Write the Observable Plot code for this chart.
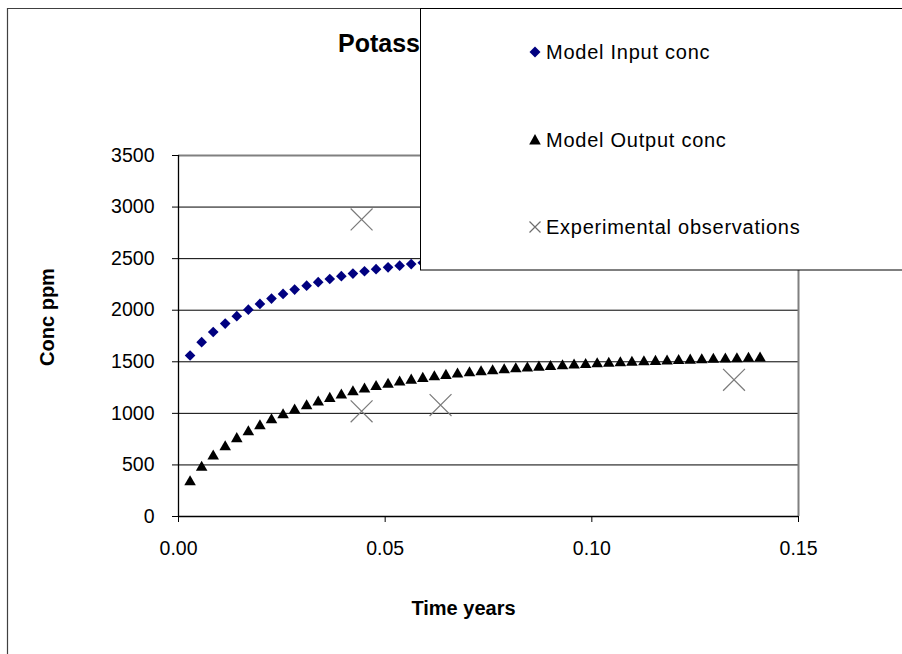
<!DOCTYPE html>
<html>
<head>
<meta charset="utf-8">
<script src="https://cdn.jsdelivr.net/npm/d3@7"></script>
<script src="https://cdn.jsdelivr.net/npm/@observablehq/plot@0.6"></script>
<style>
html, body { margin: 0; padding: 0; background: #fff; overflow: hidden; }
#wrap { position: relative; width: 902px; height: 654px; overflow: hidden; font-family: 'Liberation Sans', Arial, sans-serif; }
#wrap > svg { position: absolute; left: 0; top: 0; }
#overlay { position: absolute; left: 0; top: 0; }
</style>
</head>
<body>
<div id="wrap"></div>
<script>
// ---- data ----
const modelTime = [
  0.0028, 0.0056, 0.0084, 0.0113, 0.0141, 0.0169, 0.0197, 0.0225, 0.0253, 0.0281,
  0.0310, 0.0338, 0.0366, 0.0394, 0.0422, 0.0450, 0.0478, 0.0507, 0.0535, 0.0563,
  0.0591, 0.0619, 0.0647, 0.0675, 0.0704, 0.0732, 0.0760, 0.0788, 0.0816, 0.0844,
  0.0872, 0.0900, 0.0929, 0.0957, 0.0985, 0.1013, 0.1041, 0.1069, 0.1097, 0.1126,
  0.1154, 0.1182, 0.1210, 0.1238, 0.1266, 0.1294, 0.1323, 0.1351, 0.1379, 0.1407
];
// Model Input conc (only the points not hidden behind the legend box)
const inputConc = [
  1561, 1690, 1789, 1870, 1942, 2005, 2061, 2113, 2158, 2200,
  2238, 2272, 2303, 2330, 2355, 2378, 2398, 2416, 2432, 2447, 2460
];
const outputConc = [
  350, 490, 600, 690, 768, 835, 893, 950, 1000, 1045,
  1086, 1124, 1158, 1190, 1222, 1249, 1274, 1296, 1317, 1335,
  1352, 1367, 1381, 1394, 1406, 1417, 1427, 1436, 1445, 1453,
  1461, 1468, 1475, 1481, 1487, 1493, 1498, 1503, 1508, 1513,
  1517, 1521, 1525, 1529, 1533, 1537, 1540, 1543, 1547, 1550
];
const obsTime = [0.0443, 0.0443, 0.0634, 0.1344];
const obsConc = [2880, 1020, 1080, 1325];
const xTicks = [0, 0.05, 0.10, 0.15];
const yTicks = [0, 500, 1000, 1500, 2000, 2500, 3000, 3500];
const seriesNames = ["Model Input conc", "Model Output conc", "Experimental observations"];
const titleText = "Potassium";
const xTitle = "Time years";
const yTitle = "Conc ppm";

// ---- tables built from the arrays ----
const inputData = inputConc.map((c, i) => ({t: modelTime[i], c}));
const outputData = outputConc.map((c, i) => ({t: modelTime[i], c}));
const obsData = obsConc.map((c, i) => ({t: obsTime[i], c}));

const chart = Plot.plot({
  width: 902,
  height: 654,
  marginLeft: 178,
  marginRight: 104,
  marginTop: 155,
  marginBottom: 138,
  style: {
    fontFamily: "'Liberation Sans', Arial, sans-serif",
    fontSize: "19.5px",
    color: "#000",
    background: "transparent",
    overflow: "visible"
  },
  x: {domain: [0, 0.15], ticks: xTicks, tickFormat: d3.format(".2f"), tickSize: 6, tickPadding: 19, label: null},
  y: {domain: [0, 3500], ticks: yTicks, tickFormat: d => String(d), tickSize: 6, tickPadding: 18, label: null},
  marks: [
    Plot.ruleY(yTicks.filter(d => d > 0 && d < 3500), {stroke: "#000", strokeWidth: 1}),
    Plot.ruleY([3500], {stroke: "#808080", strokeWidth: 2}),
    Plot.ruleX([0.15], {stroke: "#808080", strokeWidth: 2}),
    Plot.ruleX([0], {stroke: "#000", strokeWidth: 1.3}),
    Plot.ruleY([0], {stroke: "#000", strokeWidth: 1.3}),
    Plot.dot(obsData, {x: "t", y: "c", symbol: "times", r: 10, stroke: "#7a7a7a", strokeWidth: 1.2}),
    Plot.dot(outputData, {x: "t", y: "c", symbol: "triangle", r: 4.3, fill: "#000", stroke: "none", dy: 1.5}),
    Plot.dot(inputData, {x: "t", y: "c", symbol: "diamond2", r: 4.8, fill: "#000080", stroke: "none"}),
    Plot.text([xTitle], {frameAnchor: "bottom", lineAnchor: "middle", textAnchor: "middle", dx: -25, dy: 92, fontWeight: "bold", fontSize: 20, fill: "#000"}),
    Plot.text([yTitle], {frameAnchor: "left", lineAnchor: "middle", textAnchor: "middle", rotate: -90, dx: -131, dy: -19, fontWeight: "bold", fontSize: 20, fill: "#000"})
  ]
});

const wrap = document.getElementById("wrap");
wrap.appendChild(chart);

// ---- overlay: chart frame, title and legend box (drawn above the plot, as in the reference) ----
const ns = "http://www.w3.org/2000/svg";
const ov = d3.select(wrap).append("svg")
  .attr("id", "overlay").attr("width", 902).attr("height", 654)
  .attr("xmlns", ns);

// chart area border (left and top edges visible)
ov.append("path").attr("d", "M7.5,654 V8.5 H902").attr("fill", "none").attr("stroke", "#404040").attr("stroke-width", 1.2);

// title (partly hidden by the legend box)
ov.append("text").attr("x", 338).attr("y", 52)
  .attr("font-family", "'Liberation Sans', Arial, sans-serif")
  .attr("font-size", 25).attr("font-weight", "bold").attr("fill", "#000")
  .text(titleText);

// legend box
const lg = ov.append("g");
lg.append("rect").attr("x", 420.5).attr("y", 8.5).attr("width", 600).attr("height", 261.5)
  .attr("fill", "#fff").attr("stroke", "#000").attr("stroke-width", 1);

const itemY = [52, 139.5, 227];
const symX = 535;
// diamond
lg.append("path").attr("d", `M${symX},${itemY[0] - 5.5} L${symX + 5.5},${itemY[0]} L${symX},${itemY[0] + 5.5} L${symX - 5.5},${itemY[0]} Z`).attr("fill", "#000080");
// triangle
lg.append("path").attr("d", `M${symX},${itemY[1] - 5.5} L${symX + 5.8},${itemY[1] + 5} L${symX - 5.8},${itemY[1] + 5} Z`).attr("fill", "#000");
// times
lg.append("path").attr("d", `M${symX - 5.5},${itemY[2] - 5.5} L${symX + 5.5},${itemY[2] + 5.5} M${symX - 5.5},${itemY[2] + 5.5} L${symX + 5.5},${itemY[2] - 5.5}`)
  .attr("stroke", "#6e6e6e").attr("stroke-width", 1.2).attr("fill", "none");

lg.selectAll("text.item").data(seriesNames).join("text")
  .attr("class", "item")
  .attr("x", 546)
  .attr("y", (d, i) => itemY[i])
  .attr("dy", "0.36em")
  .attr("font-family", "'Liberation Sans', Arial, sans-serif")
  .attr("font-size", 20)
  .attr("letter-spacing", "0.75px")
  .attr("fill", "#000")
  .text(d => d);
</script>
</body>
</html>
